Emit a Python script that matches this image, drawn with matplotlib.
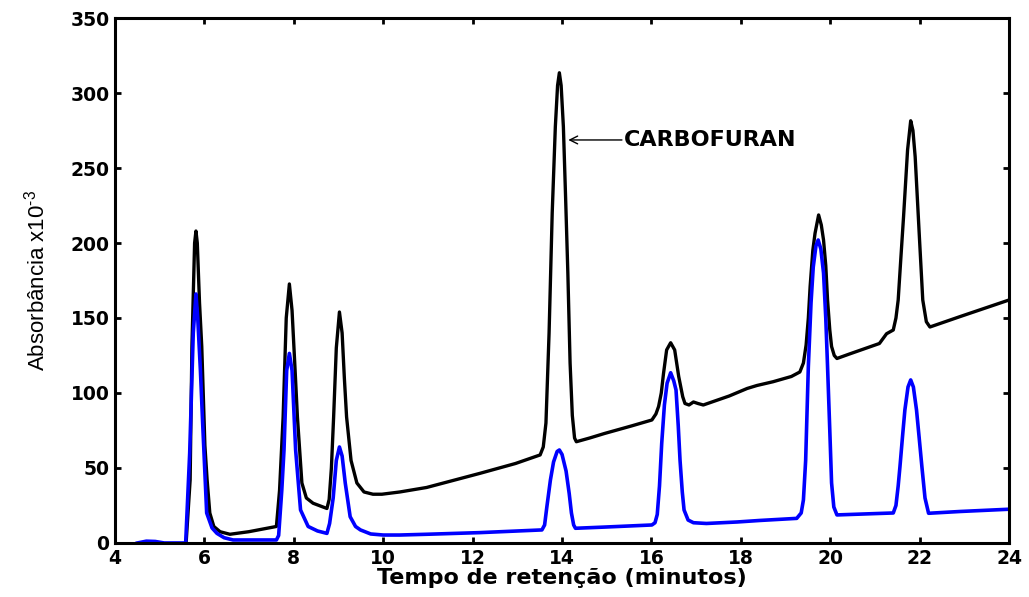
import matplotlib
matplotlib.use('Agg')
import matplotlib.pyplot as plt

# retention time (min) and absorbance (x10^-3) for the standard mixture
tempo_preto = [5.59, 5.68, 5.72, 5.78, 5.81, 5.84, 5.89, 5.94, 6.01, 6.06, 6.12, 6.21, 6.35, 6.57, 6.99,
               7.61, 7.68, 7.76, 7.83, 7.90, 7.96, 8.02, 8.08, 8.18, 8.28, 8.43, 8.74,
               8.79, 8.84, 8.89, 8.95, 9.02, 9.08, 9.13, 9.18, 9.28, 9.41, 9.57, 9.77, 9.97, 10.37,
               10.97, 12.16, 12.96, 13.51, 13.58, 13.64, 13.71, 13.78, 13.85, 13.90, 13.94, 13.98,
               14.03, 14.08, 14.13, 14.18, 14.23, 14.28, 14.32, 14.62, 14.95, 15.55,
               16.01, 16.10, 16.16, 16.22, 16.27, 16.34, 16.43, 16.52, 16.61, 16.70, 16.75, 16.84,
               16.94, 17.04, 17.16, 17.74, 18.14, 18.36, 18.72, 19.13,
               19.32, 19.40, 19.46, 19.51, 19.55, 19.61, 19.66, 19.74, 19.80, 19.85, 19.90, 19.94,
               19.99, 20.03, 20.09, 20.15, 20.43, 21.10, 21.26,
               21.41, 21.47, 21.52, 21.58, 21.64, 21.73, 21.80, 21.85, 21.90, 21.99, 22.07, 22.15,
               22.23, 22.91, 24.00]
abs_preto = [0, 42, 131, 200, 208, 200, 160, 131, 65, 42, 20, 11, 7.5, 5.8, 7.5,
             11, 35, 84, 150, 172.7, 155, 120, 84, 40, 30, 26.5, 23,
             29, 50, 84, 130, 154, 140, 110, 84, 55, 40, 34, 32.5, 32.5, 34,
             37, 46.4, 53, 58.7, 64, 80, 140, 220, 277.5, 305, 313.5, 305,
             277.5, 230, 180, 120, 85, 70, 67.5, 70, 73, 78,
             82, 86, 91, 100, 113, 128.7, 133.5, 128.7, 111, 97.5, 93, 92,
             94, 93, 92, 98, 103, 105, 107.5, 111,
             114, 120, 132, 150, 171, 195, 206.5, 218.7, 212, 202, 185, 162,
             142, 131, 125, 123, 126, 133, 139.5,
             142, 150, 162, 190, 217.5, 262, 281.5, 275, 257.5, 206.5, 162, 147.5,
             144, 151, 162]

tempo_azul = [4.50, 4.70, 4.90, 5.10, 5.58, 5.67, 5.75, 5.81, 5.85, 5.91, 5.96, 6.05, 6.17, 6.28,
              6.44, 6.64, 7.61, 7.66, 7.73, 7.78, 7.84, 7.90, 7.96, 8.04, 8.15, 8.32, 8.53, 8.74,
              8.80, 8.88, 8.95, 9.02, 9.08, 9.15, 9.26, 9.38, 9.49, 9.72, 10.00, 10.37,
              10.97, 12.16, 13.55, 13.61, 13.66, 13.74, 13.81, 13.89, 13.94, 14.00, 14.09, 14.16,
              14.21, 14.26, 14.30, 14.95, 16.01, 16.08, 16.13, 16.18, 16.23, 16.29, 16.35, 16.43,
              16.50, 16.55, 16.60, 16.64, 16.69, 16.73, 16.82, 16.94, 17.23, 17.92, 18.42, 19.25,
              19.35, 19.40, 19.45, 19.51, 19.57, 19.62, 19.68, 19.73, 19.79, 19.85, 19.90, 19.94,
              19.99, 20.03, 20.08, 20.15, 20.92, 21.41, 21.47, 21.52, 21.56, 21.62, 21.67, 21.74,
              21.80, 21.86, 21.93, 21.99, 22.05, 22.12, 22.20, 22.91, 24.00]
abs_azul = [0, 1.2, 1.0, 0, 0, 60, 140, 166, 150, 115, 80, 20, 10, 6.4,
            3.5, 2, 2, 5, 35, 62, 115, 126.4, 115, 62, 22, 11, 8, 6.4,
            13, 30, 55, 64, 58, 40, 17.5, 11, 8.7, 6, 5.3, 5.3,
            5.8, 6.9, 8.7, 12, 24, 42, 54, 61, 62, 59, 48, 33,
            20, 12, 9.8, 10.6, 12, 13.5, 19, 38, 66.5, 92, 106.5, 113.5,
            108, 102, 78, 55, 34, 22, 15.3, 13.5, 13, 14, 15, 16.4,
            20, 28.7, 55, 117.5, 160, 184, 198, 202, 196, 180, 150, 117.5,
            75, 40, 24, 18.7, 19.5, 20, 25, 38, 51, 72, 88.7, 104,
            108.7, 104, 88.7, 70, 51, 30, 19.8, 21, 22.5]

xticks = list(range(4, 25, 2))
yticks = list(range(0, 351, 50))

plt.rcParams['mathtext.fontset'] = 'custom'
plt.rcParams['mathtext.rm'] = 'Liberation Sans'
plt.rcParams['mathtext.default'] = 'rm'

fig = plt.figure(figsize=(10.29, 5.97), dpi=100)
ax = fig.add_axes([0.1118, 0.0905, 0.8688, 0.8793])

ax.plot(tempo_preto, abs_preto, color='black', lw=2.4, solid_joinstyle='round')
ax.plot(tempo_azul, abs_azul, color='#0000ff', lw=2.6, solid_joinstyle='round')

ax.set_xlim(4, 24)
ax.set_ylim(0, 350)
ax.set_xticks(xticks)
ax.set_yticks(yticks)
ax.tick_params(direction='in', length=4, width=2, top=True, right=True,
               labelsize=13.5, pad=4)
for lab in ax.get_xticklabels() + ax.get_yticklabels():
    lab.set_fontweight('bold')
for sp in ax.spines.values():
    sp.set_linewidth(2.2)

ax.set_xlabel('Tempo de retenção (minutos)', fontsize=16, fontweight='bold', labelpad=0)
ax.set_ylabel(r'Absorbância x10$^{\text{-}3}$', fontsize=16, family='Liberation Sans', labelpad=15)

ax.annotate('', xy=(14.14, 268.7), xytext=(15.34, 268.7),
            arrowprops=dict(arrowstyle='->', lw=1, color='black', shrinkA=0, shrinkB=0,
                            mutation_scale=14))
ax.text(15.39, 268.7, 'CARBOFURAN', fontsize=16, fontweight='bold', ha='left', va='center')

fig.savefig('out.png', dpi=100)
